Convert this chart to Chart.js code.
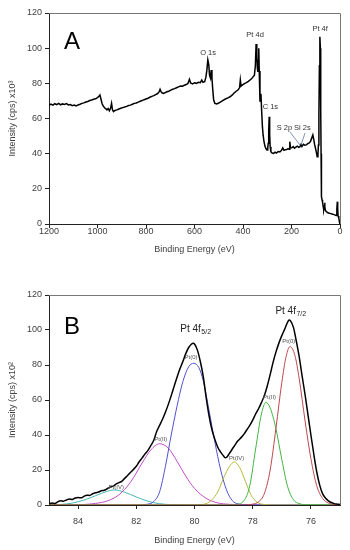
<!DOCTYPE html>
<html>
<head>
<meta charset="utf-8">
<script src="https://cdn.jsdelivr.net/npm/chart.js@4.4.1/dist/chart.umd.min.js"></script>
<style>
  html, body { margin: 0; padding: 0; background: #fff; }
  .panel { position: absolute; left: 0; width: 350px; height: 275px; }
  #panelA { top: 0; }
  #panelB { top: 275px; }
</style>
</head>
<body>
<div class="panel" id="panelA"><canvas id="surveyChart"></canvas></div>
<div class="panel" id="panelB"><canvas id="pt4fChart"></canvas></div>
<script>
// --- panel A : survey spectrum (binding energy eV / intensity x10^3) ---
const surveyTicks = [1200, 1000, 800, 600, 400, 200, 0];
const surveyEnergy = [
  1200, 1192, 1184, 1176, 1168, 1160, 1152, 1144, 1136, 1128, 1120, 1112, 1104, 1096, 1088, 1080,
  1072, 1064, 1056, 1048, 1040, 1032, 1024, 1016, 1008, 1000, 994, 990, 986, 981, 976, 971, 966,
  961, 956, 951, 946, 942, 938, 934, 928, 920, 912, 904, 896, 888, 880, 872, 864, 856, 848, 840,
  832, 824, 816, 808, 800, 792, 784, 776, 768, 760, 752, 746, 742, 738, 734, 728, 722, 714, 706,
  698, 690, 682, 674, 666, 658, 650, 642, 634, 627, 621, 616, 608, 600, 592, 584, 576, 570, 565,
  558, 553, 549, 545, 541, 538, 534, 531, 528, 525, 521, 516, 508, 500, 492, 484, 476, 468, 460,
  452, 444, 436, 428, 420, 414, 411, 408, 402, 394, 386, 378, 371, 364, 358, 353, 349, 346, 343,
  341, 339, 337, 335, 333, 330, 328, 326, 323, 320, 317, 313, 309, 305, 301, 298, 296, 294, 292,
  290, 288, 285, 280, 274, 268, 262, 255, 248, 242, 236, 231, 226, 220, 214, 210, 207, 204, 198,
  193, 188, 182, 176, 170, 165, 161, 157, 151, 145, 139, 133, 127, 122, 117, 112, 108, 105, 101,
  97, 94, 91, 89, 87, 85, 83, 81, 80, 79, 78, 77, 76, 74, 72, 70, 68, 66, 64, 63, 62, 60, 56, 50,
  44, 38, 30, 22, 16, 13, 11, 9.5, 8, 5, 3, 1, 0
];
const surveyCounts = [
  67.5, 68.2, 67.6, 68.4, 67.9, 68.6, 67.8, 68.3, 68.0, 68.5, 67.7, 67.9, 67.3, 67.6, 67.1, 67.7,
  68.1, 68.6, 68.9, 69.4, 69.7, 70.2, 70.5, 70.9, 71.2, 71.9, 72.6, 73.4, 71.2, 68.4, 67.0, 66.1, 65.6,
  64.9, 65.7, 64.4, 65.9, 68.6, 64.8, 63.9, 64.6, 64.9, 65.4, 65.8, 66.2, 66.5, 66.9, 67.4, 67.6, 68.1, 68.6, 68.8,
  69.3, 69.8, 70.2, 70.7, 71.1, 71.5, 72.1, 72.6, 73.0, 73.6, 74.2, 75.1, 76.6, 75.3, 74.6, 74.3, 74.6, 75.2, 75.5,
  76.1, 76.6, 77.0, 77.5, 78.0, 78.5, 78.4, 78.9, 79.3, 79.9, 82.3, 80.2, 79.7, 80.3, 80.0, 80.6, 80.4, 81.9, 80.6,
  80.9, 83.5, 87.5, 93.3, 90.5, 84.5, 82.9, 87.6, 83.0, 77.0, 70.5, 68.6, 68.3, 68.8, 69.5, 70.2, 70.8, 71.4, 71.9,
  72.5, 73.4, 74.6, 75.5, 76.3, 77.6, 81.9, 78.4, 79.1, 79.8, 80.4, 81.1, 81.9, 82.7, 83.8, 84.6, 90.0, 102.4, 96.5,
  89.0, 86.5, 93.0, 99.9, 87.0, 69.6, 72.5, 74.0, 64.0, 55.5, 50.5, 46.5, 44.0, 42.8, 42.1, 43.0, 45.9, 53.0, 61.0,
  51.0, 44.0, 41.1, 40.4, 40.2, 40.9, 40.3, 41.2, 41.0, 41.8, 43.3, 41.9, 42.2, 42.3, 42.9, 42.5, 46.8, 43.2, 43.4,
  44.0, 43.1, 43.7, 44.3, 43.6, 44.0, 45.2, 44.1, 45.3, 44.8, 45.0, 45.7, 46.1, 46.9, 48.7, 50.6, 48.0, 45.4, 43.0,
  40.5, 38.3, 39.6, 45.0, 62.0, 90.0, 106.5, 100.0, 88.0, 65.0, 40.0, 20.0, 15.5, 13.8, 12.6, 10.6, 8.9, 8.1, 10.0, 12.1, 9.6, 7.7, 7.0, 6.4,
  6.1, 5.9, 5.6, 5.2, 4.9, 8.5, 12.7, 9.0, 4.6, 3.4, 1.6, 0.3, 0
];

// --- panel B : Pt 4f region (x10^2) ---
const pt4fTicks = [84, 82, 80, 78, 76];
const envelopeEnergy = [
  85.0, 84.9, 84.8, 84.7, 84.6, 84.5, 84.4, 84.3, 84.2, 84.1, 84.0, 83.9, 83.8, 83.7, 83.6, 83.5,
  83.4, 83.3, 83.2, 83.1, 83.0, 82.9, 82.8, 82.7, 82.6, 82.5, 82.4, 82.3, 82.2, 82.1, 82.0, 81.9,
  81.8, 81.7, 81.6, 81.5, 81.4, 81.3, 81.2, 81.1, 81.0, 80.9, 80.8, 80.7, 80.6, 80.5, 80.4, 80.3,
  80.2, 80.1, 80.05, 80.0, 79.9, 79.8, 79.7, 79.6, 79.5, 79.4, 79.3, 79.2, 79.1, 79.0, 78.95, 78.9,
  78.8, 78.7, 78.6, 78.5, 78.4, 78.3, 78.2, 78.1, 78.0, 77.9, 77.8, 77.7, 77.6, 77.5, 77.4, 77.3,
  77.2, 77.1, 77.0, 76.9, 76.8, 76.75, 76.7, 76.6, 76.5, 76.4, 76.3, 76.2, 76.1, 76.0, 75.9, 75.8,
  75.7, 75.6, 75.5, 75.4, 75.3, 75.2, 75.1, 75.0
];
const envelopeCounts = [
  0.6, 1.2, 0.9, 1.8, 2.4, 2.2, 2.9, 3.4, 3.2, 4.0, 4.3, 4.1, 4.9, 5.6, 5.5, 6.4,
  7.0, 7.4, 8.1, 8.4, 9.3, 10.2, 10.8, 11.9, 12.8, 13.5, 15.2, 16.8, 18.6, 20.3, 22.1, 24.7,
  26.9, 29.2, 31.2, 34.0, 37.0, 42.0, 45.5, 49.0, 53.0, 57.5, 62.5, 67.8, 73.0, 77.8, 82.0, 86.5,
  90.0, 92.0, 92.4, 92.0, 88.5, 82.0, 73.5, 61.5, 51.0, 43.0, 37.5, 33.0, 30.2, 28.0, 27.0, 27.2,
  29.5, 32.0, 34.5, 36.8, 38.5, 40.5, 43.0, 45.5, 48.5, 52.0, 55.0, 58.5, 62.5, 68.0, 74.5, 81.5,
  87.5, 92.5, 96.8, 100.5, 104.5, 105.7, 105.2, 101.5, 93.5, 84.5, 73.5, 63.0, 51.5, 40.0, 29.0, 19.0,
  11.5, 6.5, 4.0, 2.4, 1.4, 0.8, 0.5, 0.3
];

const pt0_52Energy = [85, 82.0, 81.6, 81.4, 81.2, 81.0, 80.8, 80.6, 80.4, 80.2, 80.03, 79.85, 79.7, 79.5, 79.3, 79.1, 78.9, 78.7, 78.5, 78.2, 77.5, 75];
const pt0_52Counts = [0, 0, 0.5, 2.0, 7.5, 22.0, 40.0, 56.5, 70.5, 79.0, 81.0, 78.5, 71.0, 54.0, 36.0, 20.0, 8.6, 2.5, 0.6, 0.1, 0, 0];

const pt2_52Energy = [85, 84.2, 83.8, 83.4, 83.0, 82.6, 82.2, 81.8, 81.5, 81.2, 80.9, 80.6, 80.3, 80.0, 79.6, 79.2, 78.8, 78.2, 77.5, 75];
const pt2_52Counts = [0, 0.1, 0.3, 0.9, 2.3, 5.8, 13.0, 24.0, 31.5, 35.0, 32.5, 25.0, 16.5, 9.5, 3.8, 1.2, 0.4, 0.1, 0, 0];

const pt4_52Energy = [85, 84.6, 84.2, 83.8, 83.4, 83.0, 82.8, 82.6, 82.2, 81.8, 81.4, 81.0, 80.6, 80.0, 75];
const pt4_52Counts = [0, 0.3, 1.1, 2.8, 5.3, 7.8, 8.6, 8.3, 6.0, 3.3, 1.3, 0.4, 0.1, 0, 0];

const pt0_72Energy = [85, 78.4, 78.0, 77.8, 77.6, 77.4, 77.2, 77.0, 76.85, 76.72, 76.55, 76.4, 76.2, 76.0, 75.8, 75.6, 75.4, 75.2, 75.0];
const pt0_72Counts = [0, 0, 0.5, 1.8, 6.5, 20.0, 44.0, 70.0, 85.0, 90.5, 85.5, 72.0, 48.0, 26.5, 11.0, 3.8, 1.1, 0.3, 0.1];

const pt2_72Energy = [85, 79.0, 78.6, 78.3, 78.1, 77.9, 77.7, 77.55, 77.4, 77.2, 77.0, 76.8, 76.6, 76.4, 76.1, 75.5, 75];
const pt2_72Counts = [0, 0, 0.3, 2.5, 11.0, 32.0, 52.0, 58.6, 55.5, 43.5, 26.0, 10.5, 3.0, 0.8, 0.1, 0, 0];

const pt4_72Energy = [85, 80.0, 79.6, 79.4, 79.2, 79.0, 78.8, 78.63, 78.45, 78.25, 78.05, 77.85, 77.6, 77.2, 75];
const pt4_72Counts = [0, 0, 0.8, 3.0, 7.5, 15.5, 22.0, 24.6, 21.5, 13.5, 5.5, 1.6, 0.3, 0, 0];

const intensityTicks = [0, 20, 40, 60, 80, 100, 120];

const FONT = "'Liberation Sans', Arial, sans-serif";
const INK = "#404040";

function pairs(xs, ys) {
  return xs.map((x, i) => ({ x, y: ys[i] }));
}

// text labels placed in data units
const notesPlugin = {
  id: "notes",
  afterDatasetsDraw(chart, args, opts) {
    const { ctx } = chart;
    const sx = chart.scales.x;
    const sy = chart.scales.y;
    ctx.save();
    (opts.leaders || []).forEach((l) => {
      ctx.strokeStyle = "#5b7fa6";
      ctx.lineWidth = 0.8;
      ctx.beginPath();
      ctx.moveTo(sx.getPixelForValue(l[0]), sy.getPixelForValue(l[1]));
      ctx.lineTo(sx.getPixelForValue(l[2]), sy.getPixelForValue(l[3]));
      ctx.stroke();
    });
    (opts.items || []).forEach((it) => {
      const px = sx.getPixelForValue(it.x);
      const py = sy.getPixelForValue(it.y);
      ctx.font = `${it.size}px ${FONT}`;
      ctx.fillStyle = it.color || "#333";
      ctx.textAlign = it.align || "center";
      ctx.textBaseline = "middle";
      ctx.fillText(it.text, px, py);
      if (it.sub) {
        const w = ctx.measureText(it.text).width;
        ctx.font = `${it.size * 0.7}px ${FONT}`;
        ctx.textAlign = "left";
        ctx.fillText(it.sub, px + w + 0.5, py + it.size * 0.35);
      }
    });
    ctx.restore();
  },
};

// grey top / right frame lines
const framePlugin = {
  id: "frame",
  beforeDatasetsDraw(chart) {
    const { ctx, chartArea: a } = chart;
    ctx.save();
    ctx.strokeStyle = "#777";
    ctx.lineWidth = 1;
    ctx.beginPath();
    ctx.moveTo(a.left, a.top + 0.5);
    ctx.lineTo(a.right + 0.5, a.top + 0.5);
    ctx.lineTo(a.right + 0.5, a.bottom);
    ctx.stroke();
    ctx.restore();
  },
};

function scalesFor(xMin, xMax, xTicks, yTitle, opt) {
  return {
    x: {
      type: "linear",
      reverse: true,
      min: xMin,
      max: xMax,
      afterFit(s) { s.height = opt.xHeight; },
      afterBuildTicks(s) { s.ticks = xTicks.map((v) => ({ value: v })); },
      ticks: {
        color: INK,
        padding: opt.xTickPad,
        maxRotation: 0,
        autoSkip: false,
        font: { family: FONT, size: 9 },
        callback: (v) => String(v),
      },
      grid: { display: true, drawOnChartArea: false, drawTicks: true, tickLength: 4, color: "#222" },
      border: { display: true, color: "#222", width: 1 },
      title: {
        display: true,
        text: "Binding Energy (eV)",
        color: INK,
        font: { family: FONT, size: 9 },
        padding: { top: 0, bottom: opt.xTitlePad },
      },
    },
    y: {
      min: 0,
      max: 120,
      afterFit(s) { s.width = 49; },
      afterBuildTicks(s) { s.ticks = intensityTicks.map((v) => ({ value: v })); },
      ticks: {
        color: INK,
        padding: 3,
        font: { family: FONT, size: 9 },
        callback: (v) => String(v),
      },
      grid: { display: true, drawOnChartArea: false, drawTicks: true, tickLength: 4, color: "#222" },
      border: { display: true, color: "#222", width: 1 },
      title: {
        display: true,
        text: yTitle,
        color: INK,
        font: { family: FONT, size: 9 },
        padding: { top: 7.6, bottom: 0 },
      },
    },
  };
}

function line(data, color, width) {
  return {
    data,
    borderColor: color,
    borderWidth: width,
    pointRadius: 0,
    fill: false,
    cubicInterpolationMode: "monotone",
  };
}

new Chart(document.getElementById("surveyChart"), {
  type: "line",
  data: {
    datasets: [
      { data: pairs(surveyEnergy, surveyCounts), borderColor: "#000", borderWidth: 1.5, pointRadius: 0, tension: 0 },
    ],
  },
  options: {
    responsive: true,
    maintainAspectRatio: false,
    animation: false,
    layout: { padding: { left: 0, right: 10, top: 13, bottom: 0 } },
    plugins: {
      legend: { display: false },
      tooltip: { enabled: false },
      notes: {
        items: [
          { text: "A", x: 1105, y: 103.5, size: 24, color: "#000" },
          { text: "O 1s", x: 544, y: 97.3, size: 7.5 },
          { text: "Pt 4d", x: 350, y: 107.5, size: 7.5 },
          { text: "Pt 4f", x: 82, y: 111, size: 7.5 },
          { text: "C 1s", x: 287, y: 66.5, size: 7.5 },
          { text: "S 2p", x: 229, y: 54.6, size: 7.5 },
          { text: "Si 2s", x: 155, y: 54.6, size: 7.5 },
        ],
        leaders: [
          [206, 52.3, 165, 44.9],
          [144, 51.8, 161, 44.9],
        ],
      },
    },
    scales: scalesFor(0, 1200, surveyTicks, "Intensity (cps) x10³", { xHeight: 51, xTickPad: -2, xTitlePad: 20.5 }),
  },
  plugins: [framePlugin, notesPlugin],
});

new Chart(document.getElementById("pt4fChart"), {
  type: "line",
  data: {
    datasets: [
      line(pairs(envelopeEnergy, envelopeCounts), "#000", 1.5),
      line(pairs(pt0_72Energy, pt0_72Counts), "#c0474a", 1),
      line(pairs(pt2_72Energy, pt2_72Counts), "#3fb63f", 1),
      line(pairs(pt4_72Energy, pt4_72Counts), "#b8b83c", 1),
      line(pairs(pt0_52Energy, pt0_52Counts), "#5050d0", 1),
      line(pairs(pt2_52Energy, pt2_52Counts), "#c04cc8", 1),
      line(pairs(pt4_52Energy, pt4_52Counts), "#45b8b8", 1),
    ],
  },
  options: {
    responsive: true,
    maintainAspectRatio: false,
    animation: false,
    layout: { padding: { left: 0, right: 10, top: 20, bottom: 0 } },
    plugins: {
      legend: { display: false },
      tooltip: { enabled: false },
      notes: {
        items: [
          { text: "B", x: 84.21, y: 101.4, size: 24, color: "#000" },
          { text: "Pt 4f", sub: "5/2", x: 80.49, y: 100.6, size: 10, align: "left", color: "#222" },
          { text: "Pt 4f", sub: "7/2", x: 77.22, y: 111, size: 10, align: "left", color: "#222" },
          { text: "Pt(0)", x: 80.12, y: 84.2, size: 6, color: "#555" },
          { text: "Pt(II)", x: 81.16, y: 37.7, size: 6, color: "#555" },
          { text: "Pt(IV)", x: 82.69, y: 10.3, size: 6, color: "#555" },
          { text: "Pt(IV)", x: 78.55, y: 26.9, size: 6, color: "#555" },
          { text: "Pt(II)", x: 77.42, y: 61.7, size: 6, color: "#555" },
          { text: "Pt(0)", x: 76.76, y: 93.3, size: 6, color: "#555" },
        ],
      },
    },
    scales: scalesFor(75, 85, pt4fTicks, "Intensity (cps) x10²", { xHeight: 45, xTickPad: 7, xTitlePad: 4 }),
  },
  plugins: [framePlugin, notesPlugin],
});
</script>
</body>
</html>
